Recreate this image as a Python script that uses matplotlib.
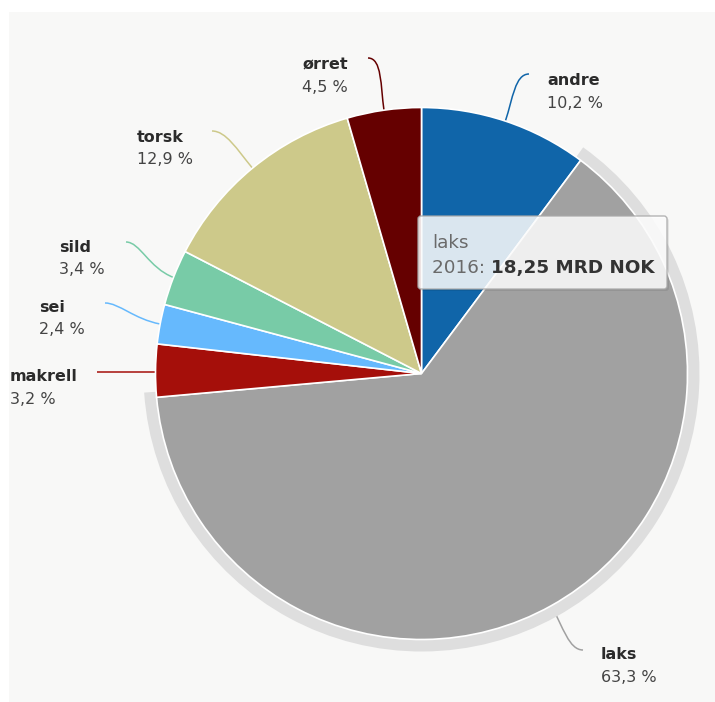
import numpy as np
import matplotlib
matplotlib.use("Agg")
import matplotlib.pyplot as plt
from matplotlib.patches import Rectangle, Wedge, FancyBboxPatch
from matplotlib.path import Path
from matplotlib.patches import PathPatch

# ---- data ----
categories = ["andre", "laks", "makrell", "sei", "sild", "torsk", "ørret"]
shares = [10.2, 63.3, 3.2, 2.4, 3.4, 12.9, 4.5]
share_labels = ["10,2 %", "63,3 %", "3,2 %", "2,4 %", "3,4 %", "12,9 %", "4,5 %"]
colors = ["#1065a9", "#a1a1a1", "#a50f0a", "#66b9fd", "#78cba7", "#cdc98a", "#650000"]
tooltip_name = "laks"
tooltip_year = "2016: "
tooltip_value = "18,25 MRD NOK"

# ---- layout (pixel coordinates) ----
W, H = 715, 702
CX, CY, R = 421.5, 373.5, 266
# label left x, name baseline, connector end point, side (+1 label right of end / -1 left)
label_layout = {
    "andre":   dict(x=547, yb=85,  end=(529, 74),  side=1),
    "laks":    dict(x=601, yb=659, end=(583, 650), side=1),
    "makrell": dict(x=10,  yb=381, end=(97, 372),  side=-1),
    "sei":     dict(x=39,  yb=312, end=(105, 303), side=-1),
    "sild":    dict(x=59,  yb=252, end=(126, 242), side=-1),
    "torsk":   dict(x=137, yb=142, end=(212, 131), side=-1),
    "ørret":   dict(x=302, yb=70,  end=(368, 58),  side=-1),
}

fig = plt.figure(figsize=(W / 100, H / 100), dpi=100)
fig.patch.set_facecolor("white")
ax = fig.add_axes([0, 0, 1, 1])

wedges, _ = ax.pie(shares, colors=colors, startangle=-90, counterclock=True,
                   center=(CX, CY), radius=R, normalize=True,
                   wedgeprops=dict(edgecolor="white", linewidth=1.2, zorder=3))
ax.set_xlim(0, W)
ax.set_ylim(H, 0)
ax.set_aspect("equal")
ax.axis("off")

# background panel
ax.add_patch(Rectangle((9, 12), W - 9, H - 12, facecolor="#f8f8f7", edgecolor="none", zorder=0))

# halo around highlighted slice (laks)
hl = wedges[categories.index("laks")]
ax.add_patch(Wedge((CX, CY), R + 12, hl.theta1 - 1.2, hl.theta2 + 1.2, width=13,
                   facecolor="#dedede", edgecolor="none", zorder=2))

# connectors and labels
for w, name, pct, col in zip(wedges, categories, share_labels, colors):
    lay = label_layout[name]
    mid = np.deg2rad((w.theta1 + w.theta2) / 2)
    dx, dy = np.cos(mid), np.sin(mid)
    p0 = (CX + R * dx, CY + R * dy)
    ex, ey = lay["end"]
    if name == "makrell":
        verts = [(p0[0], ey), (ex, ey)]
        codes = [Path.MOVETO, Path.LINETO]
    else:
        k = 0.45 * np.hypot(ex - p0[0], ey - p0[1])
        p1 = (p0[0] + dx * k, p0[1] + dy * k)
        p2 = (ex - lay["side"] * 14, ey)
        verts = [p0, p1, p2, (ex, ey)]
        codes = [Path.MOVETO, Path.CURVE4, Path.CURVE4, Path.CURVE4]
    ax.add_patch(PathPatch(Path(verts, codes), facecolor="none", edgecolor=col,
                           lw=1.1, zorder=1))
    ax.text(lay["x"], lay["yb"], name, fontsize=11.5, fontweight="bold",
            color="#2b2b2b", ha="left", va="baseline", zorder=5)
    ax.text(lay["x"], lay["yb"] + 22.5, pct, fontsize=11.5,
            color="#444444", ha="left", va="baseline", zorder=5)

# tooltip
bx, by, bw, bh = 418, 216, 249, 73
ax.add_patch(FancyBboxPatch((bx + 2, by + 2), bw, bh, boxstyle="round,pad=0,rounding_size=3",
                            facecolor="black", alpha=0.08, edgecolor="none", zorder=6))
ax.add_patch(FancyBboxPatch((bx, by), bw, bh, boxstyle="round,pad=0,rounding_size=3",
                            facecolor="white", alpha=0.85, edgecolor="#a8a8a8", lw=1.0, zorder=7))
ax.text(432, 248, tooltip_name, fontsize=13.2, color="#6a6a6a", ha="left", va="baseline", zorder=8)
t1 = ax.text(432, 273, tooltip_year, fontsize=13.2, color="#6a6a6a", ha="left", va="baseline", zorder=8)
fig.canvas.draw()
bb = t1.get_window_extent()
x_after = ax.transData.inverted().transform((bb.x1, bb.y0))[0]
ax.text(x_after, 273, tooltip_value, fontsize=13.2, fontweight="bold", color="#333333",
        ha="left", va="baseline", zorder=8)

fig.savefig("out.png", dpi=100, facecolor="white")
